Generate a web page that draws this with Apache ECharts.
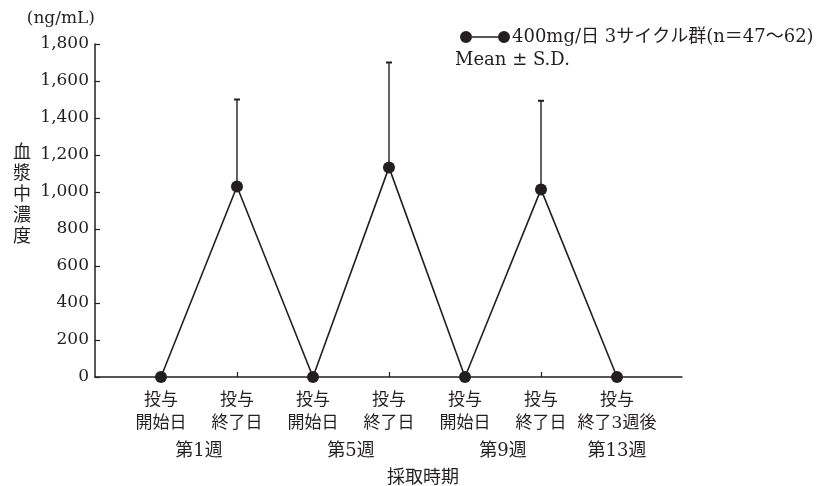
<!DOCTYPE html>
<html><head><meta charset="utf-8">
<script src="https://cdn.jsdelivr.net/npm/echarts@6/dist/echarts.min.js"></script>
<style>html,body{margin:0;padding:0;background:#fff}#c{width:836px;height:486px}</style>
</head><body><div id="c"></div>
<script>
const categories = ['投与\n開始日','投与\n終了日','投与\n開始日','投与\n終了日','投与\n開始日','投与\n終了日','投与\n終了3週後'];
const meanValues = [0, 1030, 0, 1133, 0, 1014, 0];
const sdUpperValues = [null, 1500, null, 1700, null, 1493, null]; // mean + S.D.
const weekLabels = ['第1週','第5週','第9週','第13週'];
const weekPositions = [0.5, 2.5, 4.5, 6];
const seriesName = '400mg/日 3サイクル群(n＝47〜62)';

const INK = '#231f20';
const FONT = '"DejaVu Serif","Noto Sans CJK JP",serif';
const chart = echarts.init(document.getElementById('c'), null, {renderer:'canvas'});

const lineData = meanValues.map((v,i)=>[i,v]);
const errData = [];
sdUpperValues.forEach((u,i)=>{ if(u!=null) errData.push([i, meanValues[i], u]); });
const catIdx = categories.map((_,i)=>i);

const option = {
  animation:false,
  backgroundColor:'#fff',
  textStyle:{fontFamily:FONT, color:INK},
  grid:{left:95, right:154, top:44, bottom:109, containLabel:false, outerBoundsMode:'none'},
  legend:{
    left:455, top:23, itemWidth:50, itemHeight:12, itemGap:0,
    icon:'path://M0,6a6,6 0 1,0 12,0a6,6 0 1,0 -12,0M12,5.3L38,5.3L38,6.7L12,6.7ZM38,6a6,6 0 1,0 12,0a6,6 0 1,0 -12,0',
    textStyle:{fontFamily:FONT, fontSize:18, color:INK, padding:[0,0,0,-3]},
    data:[{name:seriesName, itemStyle:{color:INK}}]
  },
  xAxis:{
    type:'value', min:-0.868, max:6.855,
    splitLine:{show:false},
    axisLine:{show:true, onZero:false, lineStyle:{color:INK, width:1.5}},
    axisTick:{show:true, inside:true, length:5, lineStyle:{color:INK, width:1.2}, customValues:catIdx},
    axisLabel:{customValues:catIdx, formatter:v=>categories[Math.round(v)], fontFamily:FONT, fontSize:17, color:INK, lineHeight:23, margin:12},
    name:'採取時期', nameLocation:'middle', nameGap:92,
    nameTextStyle:{fontFamily:FONT, fontSize:18, color:INK, padding:[0,0,0,69]}
  },
  yAxis:{
    type:'value', min:0, max:1800, interval:200,
    splitLine:{show:false},
    axisLine:{show:true, onZero:false, lineStyle:{color:INK, width:1.5}},
    axisTick:{show:true, inside:true, length:5, lineStyle:{color:INK, width:1.2}},
    axisLabel:{formatter:v=>v.toLocaleString('en-US'), fontFamily:FONT, fontSize:17, color:INK, margin:6},
    name:'(ng/mL)', nameLocation:'end', nameGap:17,
    nameTextStyle:{fontFamily:FONT, fontSize:17, color:INK, align:'right', padding:[0,0,0,0]}
  },
  series:[
    {
      type:'custom', name:'sd', z:1,
      data:errData,
      encode:{x:0, y:[1,2]},
      renderItem:(params, api)=>{
        const x=api.value(0), m=api.value(1), u=api.value(2);
        const p1=api.coord([x,m]), p2=api.coord([x,u]);
        return {type:'group', children:[
          {type:'line', shape:{x1:p1[0],y1:p1[1],x2:p2[0],y2:p2[1]}, style:{stroke:INK, lineWidth:1.4}},
          {type:'line', shape:{x1:p2[0]-3,y1:p2[1],x2:p2[0]+3,y2:p2[1]}, style:{stroke:INK, lineWidth:2}}
        ]};
      }
    },
    {
      type:'line', name:seriesName, z:3,
      data:lineData,
      symbol:'circle', symbolSize:12,
      lineStyle:{color:INK, width:1.6},
      itemStyle:{color:INK}
    }
  ]
};
chart.setOption(option);

const graphics = [];
weekLabels.forEach((t,i)=>{
  const p = chart.convertToPixel({gridIndex:0}, [weekPositions[i], 0]);
  graphics.push({type:'text', x:p[0], y:451, style:{text:t, fontFamily:FONT, fontSize:18, fill:INK, align:'center', verticalAlign:'middle'}});
});
graphics.push({type:'text', x:455, y:60, style:{text:'Mean ± S.D.', fontFamily:FONT, fontSize:18, fill:INK, align:'left', verticalAlign:'middle'}});
graphics.push({type:'text', x:22, y:193, style:{text:'血\n漿\n中\n濃\n度', fontFamily:'"Noto Sans CJK JP",sans-serif', fontSize:18, lineHeight:21, fill:INK, align:'center', verticalAlign:'middle'}});
chart.setOption({graphic:graphics});
</script>
</body></html>
